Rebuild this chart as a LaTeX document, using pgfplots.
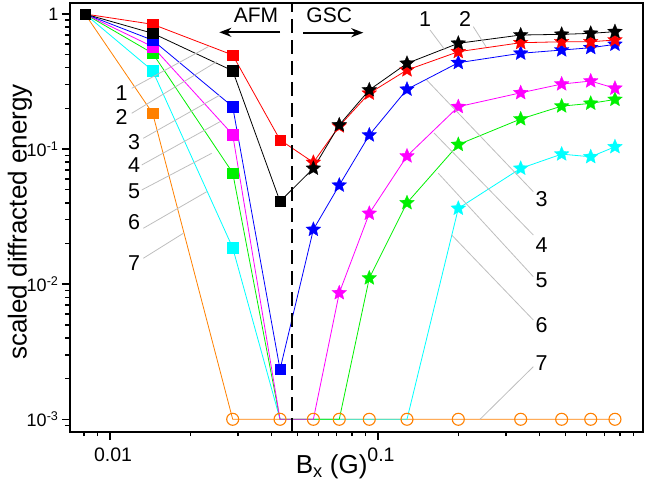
\documentclass[border=0pt]{standalone}
\usepackage{fontspec}
\setmainfont{Liberation Sans}
\usepackage{pgfplots}
\pgfplotsset{compat=1.18}
\usetikzlibrary{arrows.meta}

\definecolor{cRed}{RGB}{255,0,0}
\definecolor{cBlue}{RGB}{0,0,255}
\definecolor{cMag}{RGB}{255,0,255}
\definecolor{cGreen}{RGB}{0,240,0}
\definecolor{cCyan}{RGB}{0,255,255}
\definecolor{cOrange}{RGB}{255,128,0}
\definecolor{cLead}{RGB}{190,190,190}

\pgfdeclareplotmark{fstar}{%
  \pgfpathmoveto{\pgfpointpolar{90}{\pgfplotmarksize}}%
  \pgfpathlineto{\pgfpointpolar{126}{0.45\pgfplotmarksize}}%
  \pgfpathlineto{\pgfpointpolar{162}{\pgfplotmarksize}}%
  \pgfpathlineto{\pgfpointpolar{198}{0.45\pgfplotmarksize}}%
  \pgfpathlineto{\pgfpointpolar{234}{\pgfplotmarksize}}%
  \pgfpathlineto{\pgfpointpolar{270}{0.45\pgfplotmarksize}}%
  \pgfpathlineto{\pgfpointpolar{306}{\pgfplotmarksize}}%
  \pgfpathlineto{\pgfpointpolar{342}{0.45\pgfplotmarksize}}%
  \pgfpathlineto{\pgfpointpolar{18}{\pgfplotmarksize}}%
  \pgfpathlineto{\pgfpointpolar{54}{0.45\pgfplotmarksize}}%
  \pgfpathclose
  \pgfusepathqfillstroke
}

\pgfplotsset{
  dline/.style={line width=0.8pt, mark=none},
  sq/.style={only marks, mark=square*, mark size=5.2pt, mark options={line width=0.3pt}},
  st/.style={only marks, mark=fstar, mark size=7.7pt, mark options={line width=0.3pt}},
}

\begin{document}
\begin{tikzpicture}
\path[use as bounding box] (-70pt,-55.3pt) rectangle (575pt,431.7pt);
\begin{axis}[
  at={(0pt,0pt)}, anchor=south west,
  scale only axis, width=573.3pt, height=428.4pt,
  xmode=log, ymode=log,
  xmin=0.007093, xmax=0.97709, ymin=8.093e-4, ymax=1.2003,
  axis line style={line width=1.6pt},
  every tick/.style={black, line width=1.4pt},
  major tick length=8pt, minor tick length=4.5pt,
  tick align=outside, xtick pos=bottom, ytick pos=left,
  xtick={0.01,0.1}, xticklabels={0.01,0.1},
  minor xtick={0.008,0.009,0.02,0.03,0.04,0.05,0.06,0.07,0.08,0.09,0.2,0.3,0.4,0.5,0.6,0.7,0.8,0.9},
  ytick={0.001,0.01,0.1,1},
  yticklabels={10\textsuperscript{-3},10\textsuperscript{-2},10\textsuperscript{-1},1},
  minor ytick={0.0009,0.002,0.003,0.004,0.005,0.006,0.007,0.008,0.009,0.02,0.03,0.04,0.05,0.06,0.07,0.08,0.09,0.2,0.3,0.4,0.5,0.6,0.7,0.8,0.9},
  xticklabel style={font=\fontsize{19.5}{20}\selectfont, xshift=3pt, yshift=-5pt},
  yticklabel style={font=\fontsize{18}{20}\selectfont},
]
% series 7 (orange)
\addplot[dline, color=cOrange] coordinates {(0.00807,1) (0.01443,0.184) (0.0287,0.001) (0.0431,0.001) (0.0574,0.001) (0.0717,0.001) (0.0928,0.001) (0.1283,0.001) (0.1994,0.001) (0.3408,0.001) (0.4845,0.001) (0.622,0.001) (0.766,0.001)};
\addplot[sq, color=cOrange] coordinates {(0.00807,1) (0.01443,0.184)};
% series 6 (cyan)
\addplot[dline, color=cCyan] coordinates {(0.00807,1) (0.01443,0.38) (0.0287,0.0186) (0.0431,0.001) (0.0574,0.001) (0.0717,0.001) (0.0928,0.001) (0.1283,0.001) (0.1994,0.0364) (0.3408,0.072) (0.4845,0.0918) (0.622,0.0877) (0.766,0.104)};
\addplot[sq, color=cCyan] coordinates {(0.00807,1) (0.01443,0.38) (0.0287,0.0186)};
\addplot[st, color=cCyan] coordinates {(0.1994,0.0364) (0.3408,0.072) (0.4845,0.0918) (0.622,0.0877) (0.766,0.104)};
% series 5 (green)
\addplot[dline, color=cGreen] coordinates {(0.00807,1) (0.01443,0.512) (0.0287,0.0667) (0.0431,0.001) (0.0574,0.001) (0.0717,0.001) (0.0928,0.0111) (0.1283,0.04) (0.1994,0.108) (0.3408,0.167) (0.4845,0.208) (0.622,0.218) (0.766,0.233)};
\addplot[sq, color=cGreen] coordinates {(0.00807,1) (0.01443,0.512) (0.0287,0.0667)};
\addplot[st, color=cGreen] coordinates {(0.0928,0.0111) (0.1283,0.04) (0.1994,0.108) (0.3408,0.167) (0.4845,0.208) (0.622,0.218) (0.766,0.233)};
% series 4 (magenta)
\addplot[dline, color=cMag] coordinates {(0.00807,1) (0.01443,0.573) (0.0287,0.128) (0.0431,0.001) (0.0574,0.001) (0.0717,0.00862) (0.0928,0.0334) (0.1283,0.0888) (0.1994,0.206) (0.3408,0.261) (0.4845,0.303) (0.622,0.319) (0.766,0.282)};
\addplot[sq, color=cMag] coordinates {(0.00807,1) (0.01443,0.573) (0.0287,0.128)};
\addplot[st, color=cMag] coordinates {(0.0717,0.00862) (0.0928,0.0334) (0.1283,0.0888) (0.1994,0.206) (0.3408,0.261) (0.4845,0.303) (0.622,0.319) (0.766,0.282)};
% series 3 (blue)
\addplot[dline, color=cBlue] coordinates {(0.00807,1) (0.01443,0.64) (0.0287,0.206) (0.0431,0.00234) (0.0574,0.0254) (0.0717,0.054) (0.0928,0.127) (0.1283,0.277) (0.1994,0.436) (0.3408,0.512) (0.4845,0.541) (0.622,0.563) (0.766,0.596)};
\addplot[sq, color=cBlue] coordinates {(0.00807,1) (0.01443,0.64) (0.0287,0.206) (0.0431,0.00234)};
\addplot[st, color=cBlue] coordinates {(0.0574,0.0254) (0.0717,0.054) (0.0928,0.127) (0.1283,0.277) (0.1994,0.436) (0.3408,0.512) (0.4845,0.541) (0.622,0.563) (0.766,0.596)};
% series 2 (red)
\addplot[dline, color=cRed] coordinates {(0.00807,1) (0.01443,0.839) (0.0287,0.497) (0.0431,0.117) (0.0574,0.0797) (0.0717,0.148) (0.0928,0.259) (0.1283,0.385) (0.1994,0.526) (0.3408,0.613) (0.4845,0.623) (0.622,0.623) (0.766,0.642)};
\addplot[sq, color=cRed] coordinates {(0.00807,1) (0.01443,0.839) (0.0287,0.497) (0.0431,0.117)};
\addplot[st, color=cRed] coordinates {(0.0574,0.0797) (0.0717,0.148) (0.0928,0.259) (0.1283,0.385) (0.1994,0.526) (0.3408,0.613) (0.4845,0.623) (0.622,0.623) (0.766,0.642)};
% series 1 (black)
\addplot[dline, color=black] coordinates {(0.00807,1) (0.01443,0.72) (0.0287,0.38) (0.0431,0.041) (0.0574,0.072) (0.0717,0.151) (0.0928,0.274) (0.1283,0.431) (0.1994,0.607) (0.3408,0.699) (0.4845,0.707) (0.622,0.719) (0.766,0.74)};
\addplot[sq, color=black] coordinates {(0.00807,1) (0.01443,0.72) (0.0287,0.38) (0.0431,0.041)};
\addplot[st, color=black] coordinates {(0.0574,0.072) (0.0717,0.151) (0.0928,0.274) (0.1283,0.431) (0.1994,0.607) (0.3408,0.699) (0.4845,0.707) (0.622,0.719) (0.766,0.74)};
% zero points (open circles)
\addplot[color=cOrange, only marks, mark=o, mark size=6pt, mark options={line width=1.1pt}] coordinates {(0.0287,0.001) (0.0431,0.001) (0.0574,0.001) (0.0717,0.001) (0.0928,0.001) (0.1283,0.001) (0.1994,0.001) (0.3408,0.001) (0.4845,0.001) (0.622,0.001) (0.766,0.001)};
% AFM / GSC boundary
\draw[black, line width=2.2pt, dash pattern=on 14pt off 7pt] (axis cs:0.0479,8.093e-4) -- (axis cs:0.0479,1.2003);
\end{axis}

% axis labels
\node[font=\fontsize{26}{28}\selectfont, anchor=base] at (261.6pt,-42.3pt) {B\textsubscript{x} (G)};
\node[font=\fontsize{26}{28}\selectfont, anchor=base, rotate=90] at (-43.3pt,209.7pt) {scaled diffracted energy};

% AFM / GSC annotations
\node[font=\fontsize{21}{22}\selectfont] at (186pt,416pt) {AFM};
\node[font=\fontsize{21}{22}\selectfont] at (259.2pt,416pt) {GSC};
\draw[line width=2pt, -{Stealth[length=12pt,width=9pt]}] (210pt,399.4pt) -- (149.3pt,399.4pt);
\draw[line width=2pt, -{Stealth[length=12pt,width=9pt]}] (233.3pt,399pt) -- (293.3pt,399pt);

% left leader labels
\begin{scope}[font=\fontsize{21.5}{22}\selectfont]
\draw[cLead, line width=0.8pt] (61.7pt,343.4pt) -- (138.3pt,385pt);
\draw[cLead, line width=0.8pt] (61.7pt,318.4pt) -- (146.7pt,370pt);
\draw[cLead, line width=0.8pt] (73.3pt,293.4pt) -- (150pt,336.7pt);
\draw[cLead, line width=0.8pt] (71.7pt,266.7pt) -- (150pt,310pt);
\draw[cLead, line width=0.8pt] (71.7pt,241.7pt) -- (141.7pt,278.4pt);
\draw[cLead, line width=0.8pt] (73.3pt,203.4pt) -- (136.7pt,240pt);
\draw[cLead, line width=0.8pt] (73.3pt,173.4pt) -- (113.3pt,198.4pt);
\node at (51.7pt,339pt) {1};
\node at (51.7pt,315pt) {2};
\node at (64pt,290pt) {3};
\node at (64pt,267pt) {4};
\node at (64pt,240pt) {5};
\node at (64pt,210pt) {6};
\node at (64pt,168.4pt) {7};
% right leader labels
\draw[cLead, line width=0.8pt] (360pt,401.7pt) -- (375pt,381.7pt);
\draw[cLead, line width=0.8pt] (403.3pt,405pt) -- (416pt,385pt);
\draw[cLead, line width=0.8pt] (356.7pt,351.7pt) -- (463.3pt,240pt);
\draw[cLead, line width=0.8pt] (364pt,298.7pt) -- (463.3pt,196.7pt);
\draw[cLead, line width=0.8pt] (368.3pt,258.4pt) -- (463.3pt,155pt);
\draw[cLead, line width=0.8pt] (381.7pt,196.7pt) -- (463.3pt,111.7pt);
\draw[cLead, line width=0.8pt] (410pt,12.4pt) -- (463.3pt,65pt);
\node at (355pt,412.5pt) {1};
\node at (395pt,412.5pt) {2};
\node at (471.7pt,232.4pt) {3};
\node at (471.7pt,186.7pt) {4};
\node at (471.7pt,151.7pt) {5};
\node at (471.7pt,106.7pt) {6};
\node at (471.7pt,69pt) {7};
\end{scope}
\end{tikzpicture}
\end{document}
